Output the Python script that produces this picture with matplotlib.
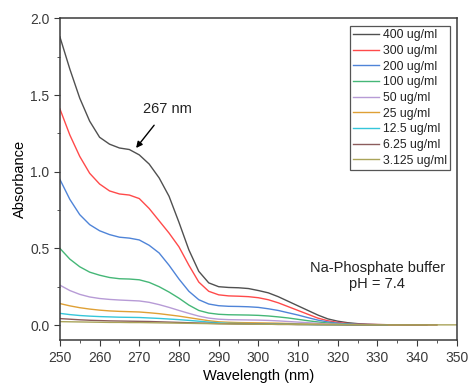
import matplotlib
matplotlib.use("Agg")
import matplotlib.pyplot as plt
import numpy as np

plt.rcParams.update({
    "font.family": ["Liberation Sans", "DejaVu Sans"],
    "font.size": 10,
    "axes.linewidth": 1.1,
    "axes.edgecolor": "#3a3a3a",
    "xtick.direction": "out",
    "ytick.direction": "out",
    "xtick.major.size": 4,
    "ytick.major.size": 4,
    "xtick.minor.size": 2.5,
    "ytick.minor.size": 2.5,
    "xtick.color": "#3a3a3a",
    "ytick.color": "#3a3a3a",
    "text.color": "#222222",
})

nan = np.nan
# wavelength grid (nm), 2.5 nm steps 250 -> 350
wavelength = np.arange(250, 350.01, 2.5)

labels = ["400 ug/ml", "300 ug/ml", "200 ug/ml", "100 ug/ml", "50 ug/ml",
          "25 ug/ml", "12.5 ug/ml", "6.25 ug/ml", "3.125 ug/ml"]
colors = ["#505050", "#ff4a4a", "#4f84d8", "#45b777", "#b79bd6",
          "#dfa035", "#35c6da", "#8c5c5c", "#aaa45a"]

abs_400 = [1.88, 1.67, 1.48, 1.33, 1.225, 1.18, 1.155, 1.145, 1.11, 1.05, 0.96, 0.84, 0.67,
           0.49, 0.35, 0.275, 0.25, 0.245, 0.243, 0.238, 0.225, 0.21, 0.185, 0.155, 0.125,
           0.095, 0.065, 0.04, 0.025, 0.015, 0.009, 0.005, 0.003, 0.002, 0.002, 0.001,
           0.001, 0.001, nan, nan, nan]
abs_300 = [1.41, 1.24, 1.10, 0.99, 0.92, 0.875, 0.855, 0.848, 0.825, 0.76, 0.68, 0.60, 0.51,
           0.39, 0.28, 0.22, 0.197, 0.19, 0.188, 0.185, 0.178, 0.165, 0.145, 0.12, 0.095,
           0.07, 0.045, 0.028, 0.017, 0.01, 0.006, 0.004, 0.003, 0.002, nan, nan, nan,
           nan, nan, nan, nan]
abs_200 = [0.95, 0.82, 0.72, 0.655, 0.615, 0.59, 0.573, 0.567, 0.555, 0.52, 0.47, 0.39, 0.30,
           0.22, 0.165, 0.137, 0.126, 0.122, 0.121, 0.119, 0.115, 0.106, 0.095, 0.08, 0.065,
           0.048, 0.032, 0.02, 0.012, 0.007, 0.004, 0.003, 0.002, 0.001, nan, nan, nan,
           nan, nan, nan, nan]
abs_100 = [0.50, 0.43, 0.38, 0.345, 0.325, 0.31, 0.302, 0.30, 0.295, 0.278, 0.25, 0.215,
           0.175, 0.13, 0.095, 0.078, 0.07, 0.067, 0.066, 0.065, 0.063, 0.059, 0.053, 0.046,
           0.037, 0.028, 0.02, 0.013, 0.008, 0.005, 0.003, 0.002, 0.001, 0.001, nan, nan,
           nan, nan, nan, nan, nan]
abs_50 = [0.26, 0.225, 0.20, 0.183, 0.173, 0.167, 0.163, 0.16, 0.157, 0.148, 0.133, 0.115,
          0.095, 0.076, 0.058, 0.045, 0.038, 0.035, 0.034, 0.033, 0.032, 0.03, 0.027, 0.023,
          0.019, 0.015, 0.011, 0.007, 0.005, 0.003, 0.002, 0.001, 0.001, 0.001, nan, nan,
          nan, nan, nan, nan, nan]
abs_25 = [0.14, 0.125, 0.113, 0.104, 0.097, 0.092, 0.089, 0.087, 0.085, 0.08, 0.074, 0.066,
          0.058, 0.048, 0.038, 0.028, 0.021, 0.018, 0.016, 0.015, 0.014, 0.013, 0.012, 0.01,
          0.008, 0.006, 0.005, 0.004, 0.003, 0.002, 0.002, 0.001, 0.001, 0.001, 0.001, 0.001,
          0.001, 0.001, 0.001, nan, nan]
abs_12 = [0.076, 0.068, 0.062, 0.058, 0.055, 0.053, 0.051, 0.05, 0.049, 0.046, 0.043, 0.039,
          0.035, 0.03, 0.025, 0.019, 0.014, 0.011, 0.01, 0.009, 0.008, 0.007, 0.006, 0.005,
          0.004, 0.003, 0.002, 0.002, 0.001, 0.001, 0.001, 0.001, 0.001, 0.001, nan, nan,
          nan, nan, nan, nan, nan]
abs_6 = [0.042, 0.038, 0.034, 0.031, 0.029, 0.027, 0.026, 0.025, 0.024, 0.023, 0.021, 0.019,
         0.017, 0.015, 0.013, 0.011, 0.009, 0.008, 0.007, 0.006, 0.006, 0.005, 0.004, 0.004,
         0.003, 0.003, 0.002, 0.002, 0.002, 0.001, 0.001, 0.001, 0.001, 0.001, 0.001, 0.001,
         0.001, 0.001, 0.001, nan, nan]
abs_3 = [0.022, 0.021, 0.02, 0.019, 0.018, 0.017, 0.017, 0.016, 0.016, 0.015, 0.014, 0.013,
         0.012, 0.011, 0.01, 0.009, 0.008, 0.007, 0.006, 0.006, 0.005, 0.005, 0.004, 0.004,
         0.003, 0.003, 0.003, 0.002, 0.002, 0.002, 0.002, 0.001, 0.001, 0.001, 0.001, 0.001,
         0.001, 0.001, 0.001, 0.001, 0.001]

series = [abs_400, abs_300, abs_200, abs_100, abs_50, abs_25, abs_12, abs_6, abs_3]

fig = plt.figure(figsize=(4.68, 3.85), dpi=100)
ax = fig.add_axes([0.128, 0.116, 0.848, 0.836])

for vals, lab, col in zip(series, labels, colors):
    ax.plot(wavelength, vals, color=col, lw=1.0, label=lab)

ax.set_xlim(250, 350)
ax.set_ylim(-0.1, 2.0)
ax.set_xticks(np.arange(250, 351, 10))
ax.set_xticks(np.arange(250, 351, 5), minor=True)
ax.set_yticks([0.0, 0.5, 1.0, 1.5, 2.0])
ax.set_yticks(np.arange(0, 2.01, 0.25), minor=True)
ax.tick_params(labelsize=10)
ax.set_xlabel("Wavelength (nm)", fontsize=10.5, labelpad=3)
ax.set_ylabel("Absorbance", fontsize=10.5, labelpad=2)

ax.annotate("267 nm", xy=(269.2, 1.155), xytext=(277, 1.41),
            ha="center", va="center", fontsize=10.5,
            arrowprops=dict(arrowstyle="-|>", color="black", lw=1.0,
                            mutation_scale=9, shrinkA=6, shrinkB=0))

ax.text(330, 0.32, "Na-Phosphate buffer\npH = 7.4", ha="center", va="center",
        fontsize=10.5, linespacing=1.1)

leg = ax.legend(loc="upper right", bbox_to_anchor=(0.99, 0.985), fontsize=8.8,
                handlelength=2.1, handletextpad=0.3, labelspacing=0.3,
                borderpad=0.3, borderaxespad=0.2, fancybox=False, framealpha=1)
leg.get_frame().set_edgecolor("#555555")
leg.get_frame().set_linewidth(0.9)

fig.savefig("out.png", dpi=100)
